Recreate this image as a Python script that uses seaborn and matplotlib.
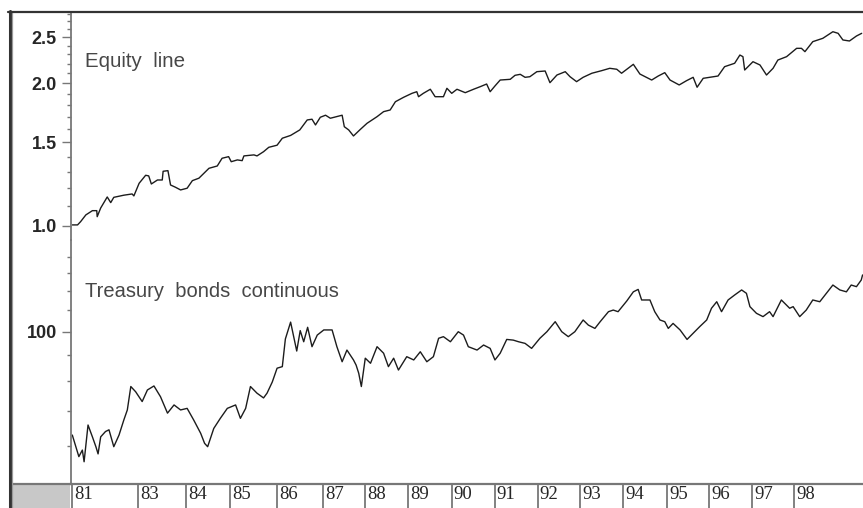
import matplotlib
matplotlib.use("Agg")
import matplotlib.pyplot as plt
import matplotlib.transforms as mtransforms
from matplotlib.patches import Rectangle
from matplotlib.lines import Line2D
from matplotlib.ticker import FixedLocator, NullFormatter
import seaborn as sns


# --------------------------------------------
# Data
# --------------------------------------------

equity_years = [
    81.47, 81.59, 81.66, 81.78, 81.93, 82.03, 82.04, 82.12, 82.27, 82.35,
    82.42, 82.65, 82.84, 82.88, 83.00, 83.15, 83.22, 83.28, 83.42, 83.53,
    83.55, 83.66, 83.72, 83.83, 83.95, 84.10, 84.22, 84.37, 84.60, 84.79,
    84.90, 85.05, 85.11, 85.25, 85.36, 85.40, 85.63, 85.70, 85.85, 85.97,
    86.16, 86.28, 86.47, 86.68, 86.85, 86.96, 87.04, 87.15, 87.27, 87.38,
    87.65, 87.70, 87.80, 87.91, 88.07, 88.22, 88.45, 88.60, 88.75, 88.87,
    89.06, 89.25, 89.36, 89.40, 89.51, 89.67, 89.78, 89.97, 90.05, 90.16,
    90.28, 90.47, 90.66, 90.81, 90.96, 91.04, 91.15, 91.27, 91.50, 91.61,
    91.73, 91.84, 91.95, 92.11, 92.30, 92.41, 92.57, 92.76, 92.87, 93.02,
    93.17, 93.37, 93.59, 93.78, 93.94, 94.05, 94.32, 94.47, 94.74, 94.89,
    95.04, 95.16, 95.37, 95.54, 95.69, 95.78, 95.92, 96.26, 96.41, 96.64,
    96.76, 96.83, 96.87, 97.06, 97.22, 97.37, 97.52, 97.63, 97.83, 98.06,
    98.17, 98.25, 98.43, 98.66, 98.89, 99.01, 99.12, 99.27, 99.43, 99.55,
]

equity_values = [
    1.005, 1.005, 1.021, 1.055, 1.077, 1.077, 1.046, 1.091, 1.151, 1.120,
    1.149, 1.161, 1.168, 1.157, 1.230, 1.279, 1.275, 1.226, 1.250, 1.250,
    1.304, 1.308, 1.220, 1.207, 1.191, 1.201, 1.246, 1.261, 1.323, 1.338,
    1.389, 1.400, 1.366, 1.378, 1.373, 1.405, 1.412, 1.405, 1.434, 1.465,
    1.480, 1.531, 1.552, 1.594, 1.673, 1.679, 1.633, 1.695, 1.712, 1.687,
    1.712, 1.619, 1.594, 1.548, 1.599, 1.646, 1.700, 1.742, 1.756, 1.828,
    1.868, 1.904, 1.919, 1.873, 1.904, 1.942, 1.873, 1.873, 1.951, 1.904,
    1.942, 1.910, 1.942, 1.966, 1.992, 1.919, 1.973, 2.031, 2.038, 2.078,
    2.088, 2.058, 2.064, 2.115, 2.122, 2.005, 2.081, 2.115, 2.064, 2.015,
    2.058, 2.099, 2.125, 2.150, 2.140, 2.099, 2.192, 2.091, 2.031, 2.071,
    2.105, 2.031, 1.983, 2.025, 2.058, 1.961, 2.048, 2.071, 2.167, 2.203,
    2.293, 2.275, 2.132, 2.220, 2.185, 2.081, 2.150, 2.238, 2.275, 2.369,
    2.369, 2.331, 2.447, 2.487, 2.568, 2.548, 2.467, 2.455, 2.515, 2.548,
]

bond_years = [
    81.47, 81.55, 81.62, 81.70, 81.74, 81.83, 81.93, 82.01, 82.06, 82.12,
    82.23, 82.31, 82.42, 82.54, 82.65, 82.73, 82.81, 82.92, 83.07, 83.19,
    83.34, 83.49, 83.65, 83.80, 83.95, 84.10, 84.25, 84.41, 84.50, 84.57,
    84.71, 84.86, 85.02, 85.21, 85.32, 85.44, 85.55, 85.70, 85.85, 85.93,
    86.05, 86.16, 86.28, 86.35, 86.47, 86.54, 86.61, 86.69, 86.77, 86.86,
    86.96, 87.08, 87.23, 87.42, 87.53, 87.65, 87.76, 87.91, 87.97, 88.03,
    88.09, 88.18, 88.30, 88.45, 88.60, 88.71, 88.83, 88.94, 89.13, 89.29,
    89.44, 89.59, 89.74, 89.86, 89.97, 90.13, 90.31, 90.43, 90.54, 90.74,
    90.89, 91.04, 91.15, 91.27, 91.42, 91.57, 91.69, 91.84, 91.99, 92.18,
    92.34, 92.53, 92.68, 92.83, 92.98, 93.17, 93.29, 93.44, 93.56, 93.75,
    93.86, 93.97, 94.17, 94.32, 94.43, 94.51, 94.70, 94.81, 94.93, 95.04,
    95.12, 95.23, 95.39, 95.55, 95.69, 95.84, 96.00, 96.11, 96.23, 96.34,
    96.49, 96.64, 96.80, 96.91, 96.99, 97.14, 97.29, 97.44, 97.52, 97.71,
    97.90, 97.98, 98.13, 98.28, 98.43, 98.59, 98.74, 98.89, 99.05, 99.20,
    99.31, 99.43, 99.54, 99.57,
]

bond_values = [
    62.9, 59.7, 57.1, 58.8, 55.8, 65.8, 62.4, 59.7, 57.8, 62.4,
    63.9, 64.4, 59.7, 62.9, 67.3, 70.4, 78.2, 76.4, 73.1, 77.0,
    78.4, 74.7, 69.4, 72.0, 70.4, 70.9, 67.3, 63.4, 60.6, 59.7,
    64.8, 67.8, 70.9, 72.0, 67.8, 70.9, 78.2, 75.9, 74.3, 75.9,
    79.8, 84.9, 85.5, 96.8, 104.4, 97.8, 91.7, 100.5, 95.6, 102.0,
    93.5, 98.5, 100.8, 100.8, 93.5, 87.4, 92.1, 88.1, 86.1, 83.0,
    78.2, 88.8, 86.8, 93.5, 90.8, 85.5, 88.8, 84.2, 89.4, 88.1,
    91.4, 87.4, 89.4, 97.1, 97.8, 95.6, 100.0, 98.5, 93.5, 92.1,
    94.2, 92.8, 88.1, 90.8, 96.6, 96.3, 95.6, 94.9, 92.8, 97.1,
    100.0, 104.6, 100.0, 97.8, 100.0, 105.4, 103.0, 101.5, 104.6, 109.4,
    110.2, 109.4, 114.8, 119.6, 120.9, 115.3, 115.3, 109.4, 105.4, 104.6,
    101.5, 103.8, 100.8, 96.6, 99.3, 102.3, 105.4, 111.1, 114.4, 109.4,
    115.3, 117.9, 120.6, 118.8, 111.9, 108.6, 107.0, 109.4, 107.0, 115.3,
    111.1, 111.9, 107.0, 110.2, 115.3, 114.4, 118.8, 123.3, 120.6, 119.6,
    123.3, 122.4, 126.1, 129.0,
]

year_ticks = [81.46, 82.97, 84.08, 85.09, 86.16, 87.21, 88.18, 89.17, 90.16,
              91.14, 92.13, 93.10, 94.09, 95.10, 96.06, 97.04, 98.00]
year_labels = ["81", "83", "84", "85", "86", "87", "88", "89", "90",
               "91", "92", "93", "94", "95", "96", "97", "98"]

equity_major = [1.0, 1.5, 2.0, 2.5]
equity_major_labels = ["1.0", "1.5", "2.0", "2.5"]
equity_minor = [1.1, 1.2, 1.3, 1.4, 1.6, 1.7, 1.8, 1.9,
                2.1, 2.2, 2.3, 2.4, 2.6, 2.7, 2.8]

bond_major = [100]
bond_major_labels = ["100"]
bond_minor = [60, 70, 80, 90, 110, 120, 130, 140]


# --------------------------------------------
# Style
# --------------------------------------------

sns.set_style("white")
plt.rcParams["font.family"] = ["Liberation Sans", "DejaVu Sans"]

W, H = 863, 508
LINE = "#1c1c1c"
AXC = "#777777"


def box(x0, y0, x1, y1):
    # pixel box (top-left origin) -> figure fraction rect
    return [x0 / W, 1 - y1 / H, (x1 - x0) / W, (y1 - y0) / H]


fig = plt.figure(figsize=(W / 100, H / 100), dpi=100)

ax_eq = fig.add_axes(box(71, 12, 863, 240))
ax_tb = fig.add_axes(box(71, 240, 863, 484), sharex=ax_eq)


# --------------------------------------------
# Equity line (top)
# --------------------------------------------

sns.lineplot(x=equity_years, y=equity_values, ax=ax_eq,
             color=LINE, linewidth=1.0, estimator=None, sort=False)
ax_eq.set_yscale("log")
ax_eq.set_ylim(0.934, 2.826)
ax_eq.set_yticks(equity_major)
ax_eq.set_yticklabels(equity_major_labels)
ax_eq.yaxis.set_minor_locator(FixedLocator(equity_minor))
ax_eq.yaxis.set_minor_formatter(NullFormatter())

ax_eq.text(0.0177, 0.76, "Equity  line", transform=ax_eq.transAxes,
           fontsize=14.8, color="#474747", va="baseline", ha="left")


# --------------------------------------------
# Treasury bonds (bottom)
# --------------------------------------------

sns.lineplot(x=bond_years, y=bond_values, ax=ax_tb,
             color=LINE, linewidth=1.0, estimator=None, sort=False)
ax_tb.set_yscale("log")
ax_tb.set_ylim(50.5, 150.9)
ax_tb.set_yticks(bond_major)
ax_tb.set_yticklabels(bond_major_labels)
ax_tb.yaxis.set_minor_locator(FixedLocator(bond_minor))
ax_tb.yaxis.set_minor_formatter(NullFormatter())

ax_tb.text(0.0177, 0.7676, "Treasury  bonds  continuous",
           transform=ax_tb.transAxes, fontsize=14.5, color="#474747",
           va="baseline", ha="left")


# --------------------------------------------
# Axes cosmetics
# --------------------------------------------

ax_tb.set_xlim(81.44, 99.58)
ax_tb.set_xticks(year_ticks)
ax_tb.set_xticklabels(year_labels)

for ax in (ax_eq, ax_tb):
    ax.set_xlabel("")
    ax.set_ylabel("")
    ax.set_facecolor("none")
    for side in ("top", "right"):
        ax.spines[side].set_visible(False)
    ax.spines["left"].set_color(AXC)
    ax.spines["left"].set_linewidth(1.3)
    ax.tick_params(axis="y", which="major", direction="out", length=6.5,
                   width=1.0, color=AXC, pad=3.6, labelsize=13,
                   labelcolor="#262626", left=True)
    ax.tick_params(axis="y", which="minor", direction="out", length=3.0,
                   width=1.0, color=AXC, left=True)
    for lbl in ax.get_yticklabels():
        lbl.set_fontweight("bold")

ax_eq.spines["bottom"].set_visible(False)
ax_eq.tick_params(axis="x", which="both", bottom=False, labelbottom=False)

ax_tb.spines["bottom"].set_color(AXC)
ax_tb.spines["bottom"].set_linewidth(1.6)
ax_tb.tick_params(axis="x", direction="out", length=17.3, width=1.3,
                  color=AXC, pad=-15.8, labelsize=13.5, labelcolor="#262626",
                  labelfontfamily="Liberation Serif", bottom=True)

shift = mtransforms.ScaledTranslation(2.0 / 100, 0, fig.dpi_scale_trans)
for lbl in ax_tb.get_xticklabels():
    lbl.set_horizontalalignment("left")
    lbl.set_transform(lbl.get_transform() + shift)


# --------------------------------------------
# Outer frame and corner box
# --------------------------------------------

fig.add_artist(Rectangle((12 / W, 0), (70 - 12) / W, (508 - 485) / H,
                         transform=fig.transFigure, facecolor="#c8c8c8",
                         edgecolor="none", zorder=0))
fig.add_artist(Line2D([12 / W, 71 / W], [1 - 484 / H, 1 - 484 / H],
                      transform=fig.transFigure, color=AXC, lw=1.6))
fig.add_artist(Line2D([9.5 / W, 9.5 / W], [0, 1 - 11 / H],
                      transform=fig.transFigure, color="#333333", lw=2.2))
fig.add_artist(Line2D([12 / W, 12 / W], [0, 1 - 12 / H],
                      transform=fig.transFigure, color="#9a9a9a", lw=0.9))
fig.add_artist(Line2D([8 / W, 1], [1 - 12 / H, 1 - 12 / H],
                      transform=fig.transFigure, color="#333333", lw=1.6))

fig.savefig("out.png", dpi=100)
